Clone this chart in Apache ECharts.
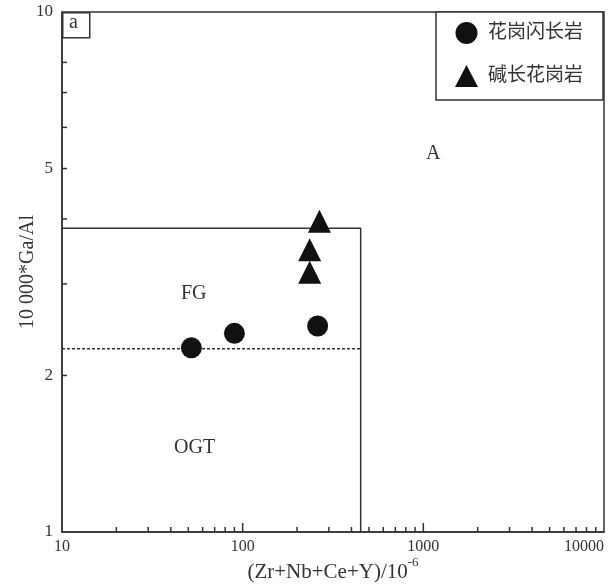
<!DOCTYPE html>
<html><head><meta charset="utf-8">
<script src="https://cdn.jsdelivr.net/npm/echarts@6/dist/echarts.min.js"></script>
<style>html,body{margin:0;padding:0;background:#fff}#c{width:608px;height:585px}</style>
</head><body><div id="c"></div>
<script>
// ---- data ----
const graniteX = [52, 90, 260];          // 花岗闪长岩 (Zr+Nb+Ce+Y)
const graniteY = [2.26, 2.41, 2.49];     // 10000*Ga/Al
const alkaliX = [266, 235, 235];         // 碱长花岗岩
const alkaliY = [3.96, 3.49, 3.16];
const boxLine = [[10, 3.84], [450, 3.84], [450, 1]];
const dashLine = [[10, 2.25], [450, 2.25]];
const xMinorTicks = [20,30,40,50,60,70,80,90,200,300,400,500,600,700,800,900,2000,3000,4000,5000,6000,7000,8000,9000];
const xMajorTicks = [100, 1000];
const yMinorTicks = [2,3,4,5,6,7,8,9];
const yTickLabels = [1, 2, 5, 10];
const xTickLabels = [10, 100, 1000, 10000];

const serif = '"Liberation Serif","DejaVu Serif",serif';
const cjk = '"Liberation Serif","Noto Sans CJK SC",serif';
const ink = '#333';

const chart = echarts.init(document.getElementById('c'));
const tickData = xMinorTicks.map(v => [v, 1, 'x', 5])
  .concat(xMajorTicks.map(v => [v, 1, 'x', 9]))
  .concat(yMinorTicks.map(v => [10, v, 'y', 5]));

chart.setOption({
  animation: false,
  grid: {left: 62, right: 4, top: 12, bottom: 53, show: true, borderColor: ink, borderWidth: 1.5,
    backgroundColor: 'transparent', containLabel: false, outerBoundsMode: 'none'},
  xAxis: {
    type: 'log', logBase: 10, min: 10, max: 10000,
    splitLine: {show: false},
    axisLine: {lineStyle: {color: ink, width: 1.5}},
    axisTick: {show: false},
    axisLabel: {color: ink, fontFamily: serif, fontSize: 16, margin: 7, alignMaxLabel: 'right',
      customValues: xTickLabels, formatter: v => String(Math.round(v))},
    name: '{a|(Zr+Nb+Ce+Y)/10}{s|-6}', nameLocation: 'middle', nameGap: 24, nameMoveOverlap: false,
    nameTextStyle: {rich: {
      a: {fontFamily: serif, fontSize: 21, color: ink, verticalAlign: 'bottom'},
      s: {fontFamily: serif, fontSize: 13, color: ink, verticalAlign: 'top', padding: [0,0,14,0]}
    }}
  },
  yAxis: {
    type: 'log', logBase: 10, min: 1, max: 10,
    splitLine: {show: false},
    axisLine: {lineStyle: {color: ink, width: 1.5}},
    axisTick: {show: false},
    axisLabel: {color: ink, fontFamily: serif, fontSize: 17, margin: 9,
      customValues: yTickLabels, formatter: v => String(Math.round(v))},
    name: '10 000*Ga/Al', nameLocation: 'middle', nameGap: 24, nameMoveOverlap: false,
    nameTextStyle: {fontFamily: serif, fontSize: 20, color: ink}
  },
  legend: {
    left: 436, top: 12, orient: 'vertical',
    padding: [10, 20, 13, 19], itemGap: 21, itemWidth: 23, itemHeight: 22,
    borderColor: ink, borderWidth: 1.5, backgroundColor: '#fff',
    textStyle: {fontFamily: cjk, fontSize: 19, color: ink, padding: [0, 0, 0, 5]},
    data: [{name: '花岗闪长岩', icon: 'circle'}, {name: '碱长花岗岩', icon: 'triangle'}]
  },
  graphic: [
    {type: 'rect', left: 62, top: 12, shape: {width: 27, height: 25}, style: {fill: '#fff', stroke: ink, lineWidth: 1.5}, z: 100},
    {type: 'text', left: 69, top: 13, style: {text: 'a', font: '20px ' + serif, fill: ink}, z: 101},
    {type: 'text', left: 426, top: 144, style: {text: 'A', font: '20px ' + serif, fill: ink}},
    {type: 'text', left: 181, top: 284, style: {text: 'FG', font: '20px ' + serif, fill: ink}},
    {type: 'text', left: 174, top: 438, style: {text: 'OGT', font: '20px ' + serif, fill: ink}}
  ],
  series: [
    {type: 'line', data: boxLine, symbol: 'none', silent: true, lineStyle: {color: ink, width: 1.5}, z: 2},
    {type: 'line', data: dashLine, symbol: 'none', silent: true, lineStyle: {color: ink, width: 1.5, type: [3, 2]}, z: 2},
    {type: 'custom', silent: true, clip: false, data: tickData, z: 3,
      renderItem: function (params, api) {
        const p = api.coord([api.value(0), api.value(1)]);
        const len = api.value(3);
        const isX = tickData[params.dataIndex][2] === 'x';
        return {type: 'line', shape: isX ? {x1: p[0], y1: p[1], x2: p[0], y2: p[1] - len} : {x1: p[0], y1: p[1], x2: p[0] + len, y2: p[1]},
          style: {stroke: ink, lineWidth: 1.5}};
      }},
    {name: '花岗闪长岩', type: 'scatter', symbol: 'circle', symbolSize: 21,
      itemStyle: {color: '#111', opacity: 1}, data: graniteX.map((x, i) => [x, graniteY[i]]), z: 5},
    {name: '碱长花岗岩', type: 'scatter', symbol: 'triangle', symbolSize: 23,
      itemStyle: {color: '#111', opacity: 1}, data: alkaliX.map((x, i) => [x, alkaliY[i]]), z: 5}
  ]
});
</script></body></html>
